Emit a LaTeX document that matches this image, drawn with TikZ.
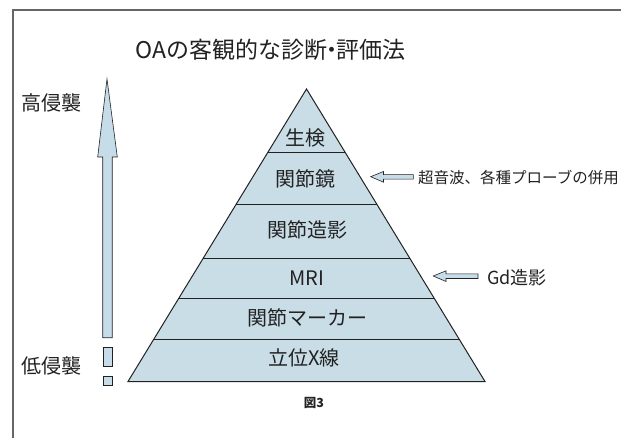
\documentclass[tikz,border=0pt]{standalone}
\usepackage{fontspec}
\setmainfont{Noto Sans CJK JP}
\usetikzlibrary{calc}
\definecolor{pyrfill}{HTML}{C9DDE7}
\definecolor{arrfill}{HTML}{C6DCE8}
\definecolor{inkc}{HTML}{222222}
\definecolor{framec}{HTML}{666666}
\tikzset{
  layerlabel/.style={text=inkc,font=\fontsize{20}{24}\selectfont,inner sep=0pt},
  sidelabel/.style={text=inkc,font=\fontsize{20}{24}\selectfont,inner sep=0pt},
  notelabel/.style={text=inkc,font=\fontsize{15.5}{18}\selectfont,inner sep=0pt,anchor=west},
  blockarrow/.style={draw=inkc,line width=0.6pt,fill=arrfill},
  layerline/.style={draw=inkc,line width=1pt},
}
\begin{document}
\begin{tikzpicture}[x=1pt,y=-1pt]
\useasboundingbox (0,0) rectangle (621,438);
\fill[white] (0,0) rectangle (621,438);
% frame
\draw[framec,line width=1.2pt] (13,438) -- (13,10) -- (621,10);
% title
\node[text=inkc,font=\fontsize{23}{27}\selectfont,inner sep=0pt] (title) at (270.5,50) {OAの客観的な診断\kern-0.3em・\kern-0.3em評価法};
% pyramid
\coordinate (A) at (306.5,89);
\coordinate (BL) at (128,381.5);
\coordinate (BR) at (485,381.5);
\fill[pyrfill] (A) -- (BL) -- (BR) -- cycle;
\foreach \t [count=\i] in {0.218,0.394,0.579,0.716,0.855}{
  \draw[layerline] ($(A)!\t!(BL)$) -- ($(A)!\t!(BR)$);
}
\draw[draw=inkc,line width=1pt,line join=miter] (A) -- (BL) -- (BR) -- cycle;
% layer labels
\node[layerlabel] (l1) at (305,138) {生検};
\node[layerlabel] (l2) at (305,179) {関節鏡};
\node[layerlabel] (l3) at (307,230) {関節造影};
\node[layerlabel] (l4) at (307,278) {MRI};
\node[layerlabel] (l5) at (307,318) {関節マーカー};
\node[layerlabel] (l6) at (304,358) {立位X線};
% left labels
\node[sidelabel] (hi) at (51,102.5) {高侵襲};
\node[sidelabel] (lo) at (51.5,366) {低侵襲};
% up arrow
\draw[blockarrow] (107,79) -- (117.3,157) -- (112.2,157) -- (112.2,337.7)
  -- (102.7,337.7) -- (102.7,157) -- (97.7,157) -- cycle;
\draw[blockarrow] (103.5,347.7) rectangle (112,366.7);
\draw[blockarrow] (103.5,376) rectangle (112,385.7);
% right arrows
\draw[blockarrow] (370.7,176.7) -- (383.5,171.5) -- (383.5,174.6) -- (413.3,174.6)
  -- (413.3,179.2) -- (383.5,179.2) -- (383.5,182.2) -- cycle;
\node[notelabel] (n1) at (418,178) {超音波、各種プローブの併用};
\draw[blockarrow] (433.3,276) -- (446,270.8) -- (446,273.9) -- (478,273.9)
  -- (478,278.5) -- (446,278.5) -- (446,281.5) -- cycle;
\node[notelabel,font=\fontsize{18}{21}\selectfont] (n2) at (487,278) {Gd造影};
% caption
\node[text=inkc,font=\fontsize{12.5}{15}\selectfont\bfseries,inner sep=0pt] (cap) at (314,403) {図3};
\end{tikzpicture}
\end{document}
